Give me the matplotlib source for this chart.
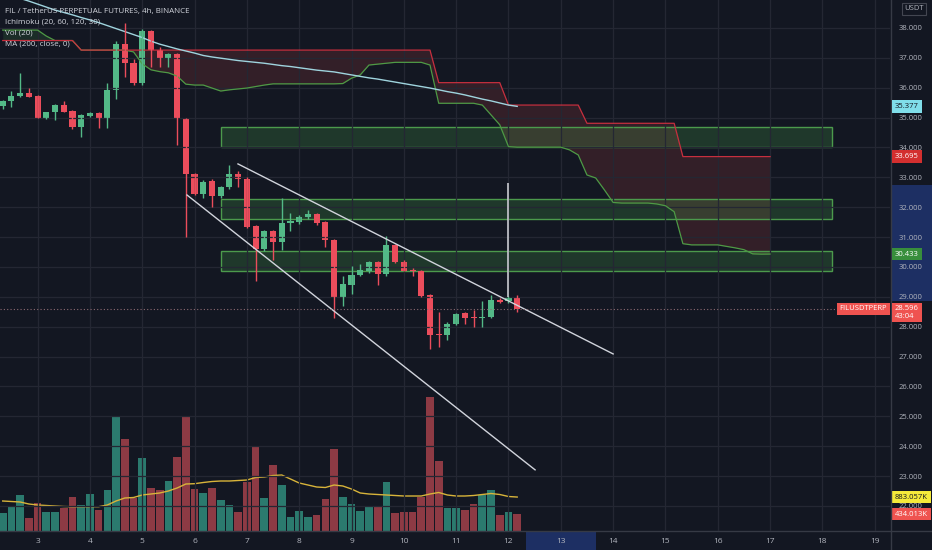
import matplotlib
matplotlib.use('Agg')
import matplotlib.pyplot as plt
import matplotlib.transforms as mtransforms
from matplotlib.patches import Rectangle
from matplotlib.lines import Line2D
import numpy as np

plt.rcParams['font.family'] = ['Open Sans', 'DejaVu Sans']

# 4h candles, FIL/USDT perpetual
opens = [35.39, 35.55, 35.72, 35.84, 35.73, 35.00, 35.18, 35.42, 35.22, 34.68,
         35.07, 35.16, 35.00, 35.93, 37.46, 36.84, 36.15, 37.91, 37.26, 36.95,
         37.13, 34.95, 33.11, 32.45, 32.89, 32.36, 32.67, 33.12, 32.94, 31.38,
         30.60, 31.21, 30.82, 31.47, 31.52, 31.67, 31.78, 31.49, 30.89, 28.99,
         29.40, 29.74, 29.87, 30.16, 29.75, 30.74, 30.18, 29.91, 29.86, 29.07,
         27.77, 27.71, 28.09, 28.46, 28.32, 28.30, 28.32, 28.90, 28.85, 28.98]
highs = [35.60, 35.90, 36.48, 35.98, 35.76, 35.20, 35.45, 35.54, 35.25, 35.12,
         35.20, 35.20, 36.17, 37.55, 38.18, 36.95, 37.95, 37.93, 37.35, 37.15,
         37.15, 35.00, 33.15, 32.90, 32.95, 32.72, 33.42, 33.20, 33.00, 31.40,
         31.25, 31.25, 32.30, 31.80, 31.75, 31.90, 31.82, 31.55, 30.95, 29.70,
         30.02, 30.10, 30.20, 30.20, 31.04, 30.78, 30.22, 29.95, 29.90, 29.10,
         28.51, 28.15, 28.45, 28.50, 28.57, 28.85, 29.05, 28.95, 29.02, 29.05]
lows = [35.30, 35.35, 35.70, 35.68, 34.98, 34.95, 34.92, 35.18, 34.61, 34.34,
        35.02, 34.65, 34.65, 35.62, 36.37, 36.10, 36.10, 36.71, 36.70, 36.70,
        34.09, 31.00, 32.40, 32.30, 32.02, 32.30, 32.60, 32.69, 31.30, 29.52,
        30.55, 30.24, 30.57, 31.20, 31.45, 31.60, 31.40, 30.66, 28.29, 28.68,
        29.10, 29.70, 29.80, 29.40, 29.70, 30.15, 29.85, 29.70, 29.00, 27.25,
        27.32, 27.55, 28.05, 28.10, 28.00, 28.00, 28.30, 28.80, 28.80, 28.50]
closes = [35.56, 35.74, 35.84, 35.70, 35.00, 35.18, 35.42, 35.20, 34.68, 35.09,
          35.16, 34.98, 35.93, 37.46, 36.84, 36.15, 37.89, 37.26, 36.95, 37.13,
          34.95, 33.11, 32.45, 32.86, 32.36, 32.67, 33.12, 32.95, 31.35, 30.60,
          31.19, 30.82, 31.47, 31.55, 31.67, 31.78, 31.47, 30.89, 28.99, 29.43,
          29.74, 29.91, 30.16, 29.75, 30.74, 30.18, 29.88, 29.86, 29.04, 27.73,
          27.71, 28.10, 28.42, 28.30, 28.28, 28.34, 28.90, 28.84, 28.98, 28.596]

# volume in thousands
volumes_k = [460, 650, 928, 346, 720, 502, 502, 606, 876, 668,
             970, 546, 1066, 2972, 2384, 858, 1898, 1110, 1058, 1300,
             1924, 2972, 1084, 996, 1126, 806, 684, 502, 1274, 2210,
             866, 1708, 1188, 372, 512, 372, 424, 840, 2140, 876,
             694, 520, 642, 624, 1266, 460, 502, 486, 884, 3476,
             1820, 590, 606, 538, 710, 936, 1058, 408, 502, 434.013]
vol_ma_k = [780, 767, 754, 702, 676, 663, 650, 637, 632, 632,
            632, 632, 676, 780, 858, 871, 936, 962, 988, 1040,
            1118, 1222, 1230, 1261, 1287, 1300, 1300, 1313, 1326, 1391,
            1404, 1443, 1456, 1352, 1248, 1196, 1144, 1131, 1196, 1170,
            1092, 988, 962, 949, 936, 923, 910, 910, 910, 962,
            1001, 936, 910, 910, 923, 949, 975, 949, 897, 883.057]

ma200 = [39.17, 39.07, 38.99, 38.90, 38.80, 38.70, 38.60, 38.52, 38.44, 38.35,
         38.27, 38.18, 38.08, 37.98, 37.88, 37.78, 37.68, 37.56, 37.46, 37.38,
         37.30, 37.23, 37.16, 37.08, 37.03, 36.99, 36.95, 36.91, 36.88, 36.85,
         36.82, 36.78, 36.74, 36.71, 36.67, 36.63, 36.59, 36.56, 36.53, 36.48,
         36.43, 36.38, 36.33, 36.29, 36.24, 36.19, 36.14, 36.09, 36.04, 35.99,
         35.93, 35.87, 35.82, 35.76, 35.69, 35.62, 35.56, 35.49, 35.42, 35.377]

# Ichimoku leading spans (shifted 30 bars ahead -> 89 points)
span_a = [37.93, 37.93, 37.93, 37.93, 37.93, 37.73, 37.58, 37.58, 37.58, 37.26,
          37.26, 37.26, 37.26, 37.26, 37.26, 37.20, 36.80, 36.60, 36.54, 36.50,
          36.39, 36.12, 36.09, 36.09, 35.99, 35.89, 35.93, 35.96, 35.99, 36.04,
          36.09, 36.13, 36.13, 36.13, 36.13, 36.13, 36.13, 36.13, 36.13, 36.14,
          36.32, 36.43, 36.76, 36.79, 36.82, 36.85, 36.85, 36.85, 36.85, 36.76,
          35.48, 35.48, 35.48, 35.48, 35.48, 35.42, 35.09, 34.76, 34.03, 34.01,
          34.01, 34.01, 34.01, 34.01, 34.01, 33.92, 33.75, 33.08, 32.98, 32.58,
          32.16, 32.14, 32.14, 32.14, 32.14, 32.11, 32.05, 31.85, 30.78, 30.74,
          30.74, 30.74, 30.74, 30.69, 30.64, 30.58, 30.44, 30.43, 30.433]
span_b = [37.58, 37.58, 37.58, 37.58, 37.58, 37.58, 37.58, 37.58, 37.58, 37.26,
          37.26, 37.26, 37.26, 37.26, 37.26, 37.26, 37.26, 37.26, 37.26, 37.26,
          37.26, 37.26, 37.26, 37.26, 37.26, 37.26, 37.26, 37.26, 37.26, 37.26,
          37.26, 37.26, 37.26, 37.26, 37.26, 37.26, 37.26, 37.26, 37.26, 37.26,
          37.26, 37.26, 37.26, 37.26, 37.26, 37.26, 37.26, 37.26, 37.26, 37.26,
          36.17, 36.17, 36.17, 36.17, 36.17, 36.17, 36.17, 36.17, 35.42, 35.42,
          35.42, 35.42, 35.42, 35.42, 35.42, 35.42, 35.42, 34.81, 34.81, 34.81,
          34.81, 34.81, 34.81, 34.81, 34.81, 34.81, 34.81, 34.81, 33.695, 33.695,
          33.695, 33.695, 33.695, 33.695, 33.695, 33.695, 33.695, 33.695, 33.695]

day_labels = list(range(3, 20))

# drawings: zones (top, bottom) spanning bar 25 -> 95, channel lines, vertical marker
zones = [(34.68, 34.03), (32.27, 31.61), (30.55, 29.88)]
zone_span = (25.0, 95.1)
channel = [((26.98, 33.45), (70.0, 27.09)),
           ((21.13, 32.41), (61.05, 23.21))]
marker_line = (58, 28.98, 32.81)
x_highlight = (60.0, 68.0)
y_highlight = (28.86, 32.75)

BG = '#131722'
GRID = '#242733'
TXT = '#b2b5be'
UP = '#53b987'
DOWN = '#eb4d5c'

idx = np.arange(len(opens))
o = np.array(opens)
c = np.array(closes)
up = c >= o
cols = [UP if u else DOWN for u in up]

fig = plt.figure(figsize=(9.32, 5.5), dpi=100, facecolor=BG)
ax = fig.add_axes([0, 19 / 550, 890 / 932, 531 / 550])
ax2 = ax.twinx()
ax.set_zorder(2)
ax2.set_zorder(1)
ax.patch.set_visible(False)

# volume
vcols = ['#2b7a6e' if u else '#8d3a44' for u in up]
ax2.bar(idx, volumes_k, width=0.88, color=vcols)
ax2.plot(idx, vol_ma_k, color='#d8b43a', lw=1)
ax2.set_ylim(0, 531 * 26)
ax2.set_yticks([])
for s in ax2.spines.values():
    s.set_visible(False)

# cloud
cx = np.arange(len(span_a))
sa = np.array(span_a)
sb = np.array(span_b)
ax.fill_between(cx, sa, sb, where=sb >= sa, interpolate=True,
                color='#ef5350', alpha=0.15, lw=0)
ax.fill_between(cx, sa, sb, where=sa > sb, interpolate=True,
                color='#4caf50', alpha=0.15, lw=0)
ax.plot(cx, sa, color='#4e9a45', lw=0.9)
ax.plot(cx, sb, color='#c62f3e', lw=0.9)

# zones
for top, bot in zones:
    ax.add_patch(Rectangle((zone_span[0], bot), zone_span[1] - zone_span[0], top - bot,
                           facecolor=(0.30, 0.69, 0.31, 0.22), edgecolor='#4c9a4c', lw=1))

# MA 200
ax.plot(idx, ma200, color='#9fd4de', lw=1)

# candles
ax.vlines(idx, lows, highs, colors=cols, lw=1)
body = np.maximum(np.abs(c - o), 0.03)
ax.bar(idx, body, bottom=np.minimum(o, c), width=0.7, color=cols, lw=0)

# drawings
for (x0, y0), (x1, y1) in channel:
    ax.plot([x0, x1], [y0, y1], color='#d1d4dc', lw=1)
ax.vlines(marker_line[0], marker_line[1], marker_line[2], colors='#c8cad0', lw=1.2)
ax.axhline(closes[-1], color='#8e6a72', lw=0.8, ls=(0, (1, 2)))

ax.set_xlim(-0.31, 101.75)
ax.set_ylim(21.163, 38.937)

ax.set_xticks([4 + 6 * (d - 3) for d in day_labels])
ax.set_xticklabels([str(d) for d in day_labels])
ax.set_yticks(range(22, 39))
ax.set_yticklabels(['%.3f' % v for v in range(22, 39)])
ax.yaxis.tick_right()
ax.tick_params(axis='both', colors=TXT, labelsize=5.5, length=0)
ax.tick_params(axis='x', labelsize=6)
ax.tick_params(axis='y', pad=6)
ax.tick_params(axis='x', pad=5)
ax.grid(True, color=GRID, lw=0.9)
for s in ['top', 'left', 'right', 'bottom']:
    ax.spines[s].set_visible(False)

# separators
fig.add_artist(Line2D([0, 1], [19.5 / 550] * 2, color='#363a45', lw=1))
fig.add_artist(Line2D([890.5 / 932] * 2, [0, 1], color='#363a45', lw=1))

# highlights on the axes strips
bx = mtransforms.blended_transform_factory(ax.transData, fig.transFigure)
fig.add_artist(Rectangle((x_highlight[0], 0), x_highlight[1] - x_highlight[0], 19 / 550,
                         transform=bx, facecolor='#1d2f63', edgecolor='none', zorder=0.5))
by = mtransforms.blended_transform_factory(fig.transFigure, ax.transData)
fig.add_artist(Rectangle((891 / 932, y_highlight[0]), 41 / 932, y_highlight[1] - y_highlight[0],
                         transform=by, facecolor='#1d2f63', edgecolor='none', zorder=0.5))

# price tags on the axis
tr = mtransforms.blended_transform_factory(ax.transAxes, ax.transData)


def tag(y, text, fc, tc, trans=tr, axis=ax):
    axis.text(1 + 5 / 890, y, text, transform=trans, ha='left', va='center',
              fontsize=5.5, color=tc, zorder=10, clip_on=False,
              bbox=dict(boxstyle='square,pad=0.35', fc=fc, ec='none'))


tag(ma200[-1], '%.3f' % ma200[-1], '#80deea', '#131722')
tag(span_b[-1], '%.3f' % span_b[-1], '#d32f2f', 'white')
tag(span_a[-1], '%.3f' % span_a[-1], '#388e3c', 'white')
ax.text(1 + 5 / 890, closes[-1] - 0.12, '%.3f\n43:04' % closes[-1], transform=tr,
        ha='left', va='center', fontsize=5.5, color='white', linespacing=1.1,
        zorder=10, clip_on=False,
        bbox=dict(boxstyle='square,pad=0.35', fc='#ef5350', ec='none'))
ax.text(1 - 3 / 890, closes[-1], 'FILUSDTPERP', transform=tr, ha='right', va='center',
        fontsize=5.5, color='white', zorder=10,
        bbox=dict(boxstyle='square,pad=0.35', fc='#ef5350', ec='none'))
tr2 = mtransforms.blended_transform_factory(ax2.transAxes, ax2.transData)
ax2.text(1 + 5 / 890, vol_ma_k[-1], '%.3fK' % vol_ma_k[-1], transform=tr2, ha='left',
         va='center', fontsize=5.5, color='#131722', clip_on=False,
         bbox=dict(boxstyle='square,pad=0.35', fc='#f5ea3a', ec='none'))
ax2.text(1 + 5 / 890, volumes_k[-1], '%.3fK' % volumes_k[-1], transform=tr2, ha='left',
         va='center', fontsize=5.5, color='white', clip_on=False,
         bbox=dict(boxstyle='square,pad=0.35', fc='#ef5350', ec='none'))

fig.text(904 / 932, 1 - 9 / 550, 'USDT', ha='left', va='center', fontsize=5.5,
         color=TXT, bbox=dict(boxstyle='square,pad=0.3', fc=BG, ec='#434651', lw=0.8))

# legend
legend = ['FIL / TetherUS PERPETUAL FUTURES, 4h, BINANCE',
          'Ichimoku (20, 60, 120, 30)', 'Vol (20)', 'MA (200, close, 0)']
for k, line in enumerate(legend):
    fig.text(5 / 932, 1 - (11 + 11 * k) / 550, line, ha='left', va='center',
             fontsize=5.8, color='#d1d4dc', zorder=20)

fig.savefig('out.png', dpi=100, facecolor=BG)
